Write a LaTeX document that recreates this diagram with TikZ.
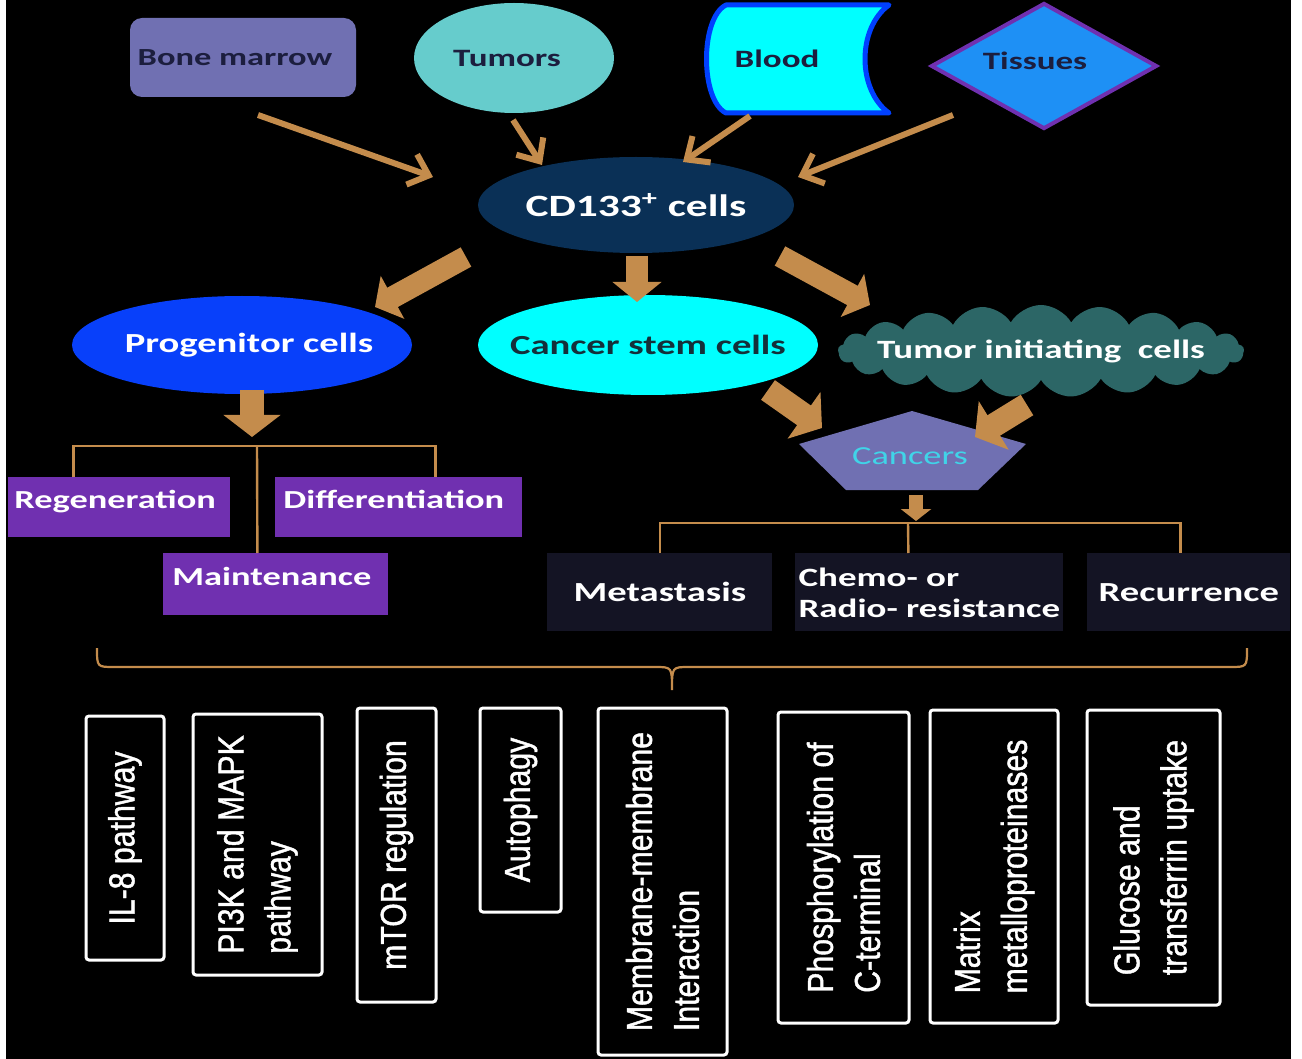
\documentclass[tikz,border=0pt]{standalone}
\usepackage{fontspec}
\setmainfont{Carlito}
\newfontfamily\widefont[FakeStretch=1.4]{Carlito}
\newfontfamily\tallfont[FakeStretch=0.84,FakeBold=1.2]{Liberation Sans}
\usepackage{tikz}
\usetikzlibrary{arrows.meta,shapes.geometric,shapes.symbols}
\hyphenpenalty=10000

\definecolor{rope}{RGB}{196,140,76}
\definecolor{slate}{RGB}{112,112,178}
\definecolor{ink}{RGB}{28,30,62}
\definecolor{tumour}{RGB}{102,204,204}
\definecolor{aqua}{RGB}{0,255,255}
\definecolor{bloodrim}{RGB}{0,64,255}
\definecolor{tissuefill}{RGB}{30,144,245}
\definecolor{tissuerim}{RGB}{112,48,176}
\definecolor{hub}{RGB}{10,48,86}
\definecolor{progen}{RGB}{8,64,250}
\definecolor{stemink}{RGB}{20,48,58}
\definecolor{cloudfill}{RGB}{44,102,102}
\definecolor{cancerink}{RGB}{64,212,232}
\definecolor{fate}{RGB}{112,48,176}
\definecolor{night}{RGB}{20,20,36}

\tikzset{
  thinarrow/.style={draw=rope, line width=3pt, -{Straight Barb[length=9pt,width=16pt]}},
  fatarrow/.style={draw=rope, line width=11pt, -{Triangle[length=10pt,width=24pt]}},
  branch/.style={draw=rope, line width=1.2pt},
  toplabel/.style={font=\widefont\bfseries\fontsize{#1}{15.5}\selectfont},
  toplabel/.default=13,
  fatebox/.style={fill=fate, text=white, toplabel, anchor=north west, align=left, inner ysep=0pt},
  nightbox/.style={fill=night, text=white, toplabel=13.8, anchor=north west, inner sep=0pt, minimum height=39pt},
  pathbox/.style={draw=white, line width=1.5pt, fill=black, rounded corners=1.5pt, rotate=90, inner sep=0pt,
    text=white, align=left, font=\tallfont\fontsize{18}{23.5}\selectfont}
}

\begin{document}
\begin{tikzpicture}[x=0.5pt,y=-0.5pt]
  % The page: a thin white strip on both sides and the black board in between
  \useasboundingbox (0,0) rectangle (1302,1059);
  \fill[white] (0,0) rectangle (1302,1059);
  \fill[black] (6,0) rectangle (1291,1059);

  % The four sources of the cells along the top row
  % (labels sit in zero-width boxes so that the shapes keep the size given to them)
  \node[rounded corners=6pt, fill=slate, minimum width=113pt, minimum height=39.5pt, inner sep=0pt, text=ink, toplabel=12.3] (marrow) at (243,57.5) {\makebox[0pt]{Bone marrow\hspace{8pt}}};
  \node[ellipse, fill=tumour, minimum width=100pt, minimum height=55pt, inner sep=0pt, text=ink, toplabel=12.5] (tumors) at (514,58) {\makebox[0pt]{Tumors\hspace{7pt}}};
  % blood is a stored-data outline: a bulging left side and a hollow right side
  \filldraw[fill=aqua, draw=bloodrim, line width=2.5pt, line join=round] (726,5) -- (889,5) .. controls (857,28) and (857,90) .. (889,113) -- (726,113) .. controls (700,100) and (700,18) .. (726,5) -- cycle;
  \node[text=ink, toplabel=12.5] (blood) at (777,59) {Blood};
  \node[diamond, fill=tissuefill, draw=tissuerim, line width=2pt, minimum width=113pt, minimum height=63pt, inner sep=0pt, text=ink, toplabel=12.5] (tissues) at (1044,66) {\raisebox{5.5pt}{\makebox[0pt]{Tissues\hspace{9pt}}}};

  % The pool that every source feeds
  \node[ellipse, fill=hub, minimum width=158pt, minimum height=48pt, inner sep=0pt, text=white, toplabel=15.5] (cd133) at (636,205) {\makebox[0pt]{CD133\textsuperscript{+} cells}};

  % Thin arrows from the sources into the pool
  \coordinate (marrow-out) at (258,115);  \coordinate (marrow-in) at (433,177);
  \coordinate (tumors-out) at (513,120);  \coordinate (tumors-in) at (542,165);
  \coordinate (blood-out) at (750,116);   \coordinate (blood-in) at (683,162);
  \coordinate (tissues-out) at (953,115); \coordinate (tissues-in) at (798,177);
  \draw[thinarrow] (marrow-out) -- (marrow-in);
  \draw[thinarrow] (tumors-out) -- (tumors-in);
  \draw[thinarrow] (blood-out) -- (blood-in);
  \draw[thinarrow] (tissues-out) -- (tissues-in);

  % The three kinds of cell that come out of the pool
  \node[ellipse, fill=progen, minimum width=170pt, minimum height=49pt, inner sep=0pt, text=white, toplabel=13.8] (progenitor) at (242,345) {\makebox[0pt]{\hspace{7pt}Progenitor cells}};
  \node[ellipse, fill=aqua, minimum width=170pt, minimum height=50pt, inner sep=0pt, text=stemink, toplabel=13.8] (stem) at (648,345) {\makebox[0pt]{Cancer stem cells}};
  \node[cloud, cloud puffs=21, cloud puff arc=120, cloud ignores aspect, fill=cloudfill, minimum width=203pt, minimum height=46pt, inner sep=0pt, text=white, toplabel=13.2] (initiating) at (1041,351) {\makebox[0pt]{Tumor initiating\ \ cells}};

  % Fat arrows out of the pool
  \coordinate (split-l) at (466,257); \coordinate (split-l-end) at (375,307);
  \coordinate (split-m) at (637,256); \coordinate (split-m-end) at (637,302);
  \coordinate (split-r) at (780,256); \coordinate (split-r-end) at (870,305);
  \draw[fatarrow] (split-l) -- (split-l-end);
  \draw[fatarrow] (split-m) -- (split-m-end);
  \draw[fatarrow] (split-r) -- (split-r-end);

  % Progenitor cells and what they do
  \coordinate (prog-out) at (252,390); \coordinate (prog-in) at (252,437);
  \draw[fatarrow, line width=12pt, -{Triangle[length=11pt,width=28pt]}] (prog-out) -- (prog-in);
  \node[fatebox, inner xsep=3pt, text width=105pt, text height=15.75pt, text depth=14.25pt] (regen) at (8,477) {Regeneration};
  \node[fatebox, inner xsep=4pt, text width=115.5pt, text height=15.75pt, text depth=14.25pt] (differ) at (275,477) {Differentiation};
  \node[fatebox, inner xsep=4.5pt, text width=103.5pt, text height=16.25pt, text depth=14.75pt] (maint) at (163,553) {Maintenance};
  \coordinate (prog-fork) at (257,446);
  \draw[branch] ([xshift=-23pt]regen.north) |- (prog-fork) -| ([xshift=18.25pt]differ.north);
  \draw[branch] (prog-fork) -- ([xshift=-9.25pt]maint.north);

  % Cancer stem cells and tumor initiating cells both lead to cancers
  \fill[slate] (912,411) -- (1026,444) -- (978,490) -- (846,490) -- (799,444) -- cycle;
  \node[text=cancerink, font=\widefont\fontsize{13}{15.5}\selectfont] (cancers) at (910,456) {Cancers};
  \coordinate (stem-out) at (768,390); \coordinate (stem-in) at (822,428);
  \coordinate (init-out) at (1027,405); \coordinate (init-in) at (975,437);
  \draw[fatarrow, line width=12pt, -{Triangle[length=11pt,width=28pt]}] (stem-out) -- (stem-in);
  \draw[fatarrow, line width=12pt, -{Triangle[length=11pt,width=28pt]}] (init-out) -- (init-in);

  % What cancers bring about
  \coordinate (canc-out) at (916,495); \coordinate (canc-in) at (916,521);
  \draw[fatarrow, line width=7pt, -{Triangle[length=6pt,width=15pt]}] (canc-out) -- (canc-in);
  \node[nightbox, minimum width=112.5pt] (metastasis) at (547,553) {Metastasis};
  \node[nightbox, minimum width=134pt, align=left, font=\widefont\bfseries\fontsize{13.2}{15.5}\selectfont] (resist) at (795,553) {Chemo- or\\Radio- resistance};
  \node[nightbox, minimum width=101.5pt] (recur) at (1087,553) {Recurrence};
  \coordinate (canc-fork) at (908,523);
  \draw[branch] (metastasis.north) |- (canc-fork) -| ([xshift=-4.25pt]recur.north);
  \draw[branch] (canc-fork) -- ([xshift=-10.5pt]resist.north);

  % One long brace that gathers everything above it
  \coordinate (brace-tip) at (672,690);
  \draw[branch, line width=1.1pt] (97,648) .. controls (97,667) and (97,667) .. (114,667) -- (655,667)
    .. controls (672,667) and (672,667) .. (brace-tip) .. controls (672,667) and (672,667) .. (689,667)
    -- (1230,667) .. controls (1247,667) and (1247,667) .. (1247,648);

  % The mechanisms, written upwards in white boxes
  \node[pathbox, minimum width=122pt, minimum height=39pt] (il8) at (125,838) {IL-8 pathway};
  \node[pathbox, minimum width=130.5pt, minimum height=64.5pt] (pi3k) at (257.5,844.5) {PI3K and MAPK\\pathway};
  \node[pathbox, minimum width=147pt, minimum height=39.5pt] (mtor) at (396.5,855) {mTOR regulation};
  \node[pathbox, minimum width=102pt, minimum height=40.5pt] (autophagy) at (520.5,810) {Autophagy};
  \node[pathbox, minimum width=173.5pt, minimum height=64.5pt] (membrane) at (662.5,881.5) {Membrane-membrane\\Interaction};
  \node[pathbox, minimum width=155.5pt, minimum height=65.5pt] (phospho) at (843.5,867.5) {Phosphorylation of\\C-terminal};
  \node[pathbox, minimum width=156.5pt, minimum height=64pt] (matrix) at (994,866.5) {Matrix\\metalloproteinases};
  \node[pathbox, minimum width=147.5pt, minimum height=66.5pt] (glucose) at (1153.5,857.5) {Glucose and\\transferrin uptake};
\end{tikzpicture}
\end{document}
